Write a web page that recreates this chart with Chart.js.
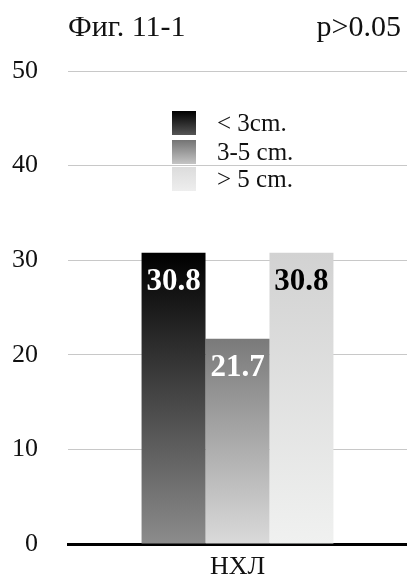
<!DOCTYPE html>
<html lang="ru">
<head>
    <meta charset="UTF-8">
    <title>Фиг. 11-1</title>
    <script src="https://cdn.jsdelivr.net/npm/chart.js"></script>
    <style>
        html, body { margin: 0; padding: 0; background: #fff; }
        #chart { display: block; }
    </style>
</head>
<body>
    <canvas id="chart" width="407" height="581"></canvas>

    <script>
        // Data
        const categories = ['НХЛ'];
        const seriesLabels = ['< 3cm.', '3-5 cm.', '> 5 cm.'];
        const seriesValues = [30.8, 21.7, 30.8];
        const yTicks = [0, 10, 20, 30, 40, 50];
        const figTitle = 'Фиг. 11-1';
        const pValue = 'p>0.05';

        // Styles (top colour, bottom colour) for each bar
        const barGradients = [
            ['#000000', '#8c8c8c'],
            ['#7a7a7a', '#dadada'],
            ['#d2d2d2', '#f0f1f0']
        ];
        const legendGradients = [
            ['#000000', '#555555'],
            ['#747474', '#c4c4c4'],
            ['#dcdcdc', '#eeeeee']
        ];
        const labelColors = ['#ffffff', '#ffffff', '#000000'];
        const serif = '"Liberation Serif", "Times New Roman", serif';

        function barFill(i) {
            return (ctx) => {
                const chart = ctx.chart;
                if (!chart.chartArea) return barGradients[i][0];
                const y = chart.scales.y;
                const top = y.getPixelForValue(seriesValues[i]);
                const bottom = y.getPixelForValue(0);
                const g = chart.ctx.createLinearGradient(0, top, 0, bottom);
                g.addColorStop(0, barGradients[i][0]);
                g.addColorStop(1, barGradients[i][1]);
                return g;
            };
        }

        // value labels inside the bars
        const valueLabels = {
            id: 'valueLabels',
            afterDatasetsDraw(chart) {
                const ctx = chart.ctx;
                ctx.save();
                ctx.font = 'bold 31px ' + serif;
                ctx.textAlign = 'center';
                ctx.textBaseline = 'middle';
                chart.data.datasets.forEach((ds, i) => {
                    chart.getDatasetMeta(i).data.forEach((bar, j) => {
                        ctx.fillStyle = labelColors[i];
                        ctx.fillText(ds.data[j].toFixed(1), bar.x, bar.y + 29);
                    });
                });
                ctx.restore();
            }
        };

        // title, p-value and the legend
        const decorations = {
            id: 'decorations',
            afterDraw(chart) {
                const ctx = chart.ctx;
                ctx.save();
                ctx.fillStyle = '#111';
                ctx.font = '30px ' + serif;
                ctx.textBaseline = 'alphabetic';
                ctx.textAlign = 'left';
                ctx.fillText(figTitle, 68, 36);
                ctx.textAlign = 'right';
                ctx.fillText(pValue, 401, 36);

                // legend
                ctx.font = '25px ' + serif;
                ctx.textAlign = 'left';
                ctx.textBaseline = 'middle';
                const boxTops = [111, 140, 167];
                chart.data.datasets.forEach((ds, i) => {
                    const top = boxTops[i];
                    const g = ctx.createLinearGradient(0, top, 0, top + 24);
                    g.addColorStop(0, legendGradients[i][0]);
                    g.addColorStop(1, legendGradients[i][1]);
                    ctx.fillStyle = g;
                    ctx.fillRect(172, top, 24, 24);
                    ctx.fillStyle = '#111';
                    ctx.fillText(ds.label, 217, top + 13);
                });
                ctx.restore();
            }
        };

        const datasets = seriesLabels.map((label, i) => ({
            label: label,
            data: [seriesValues[i]],
            backgroundColor: barFill(i),
            borderWidth: 0,
            barPercentage: 1,
            categoryPercentage: 0.566
        }));

        new Chart(document.getElementById('chart'), {
            type: 'bar',
            data: {
                labels: categories,
                datasets: datasets
            },
            options: {
                responsive: false,
                animation: false,
                layout: {
                    padding: { top: 71, right: 0, bottom: 0, left: 0 }
                },
                plugins: {
                    legend: { display: false },
                    tooltip: { enabled: false },
                    title: { display: false }
                },
                scales: {
                    x: {
                        grid: { display: false, drawTicks: false },
                        border: { display: true, color: '#000', width: 3 },
                        ticks: {
                            color: '#111',
                            padding: 8,
                            font: { family: serif, size: 26 }
                        },
                        afterFit(scale) { scale.height = 37; }
                    },
                    y: {
                        min: 0,
                        max: 50,
                        afterBuildTicks(scale) {
                            scale.ticks = yTicks.map(v => ({ value: v }));
                        },
                        grid: { color: '#c8c8c8', lineWidth: 1, drawTicks: false },
                        border: { display: false },
                        ticks: {
                            color: '#111',
                            padding: 30,
                            font: { family: serif, size: 26 }
                        },
                        afterFit(scale) {
                            scale.width = 68;
                            // the tick padding would otherwise push the plot bottom up
                            scale.paddingTop = 0;
                            scale.paddingBottom = 0;
                        }
                    }
                }
            },
            plugins: [valueLabels, decorations]
        });
    </script>
</body>
</html>
